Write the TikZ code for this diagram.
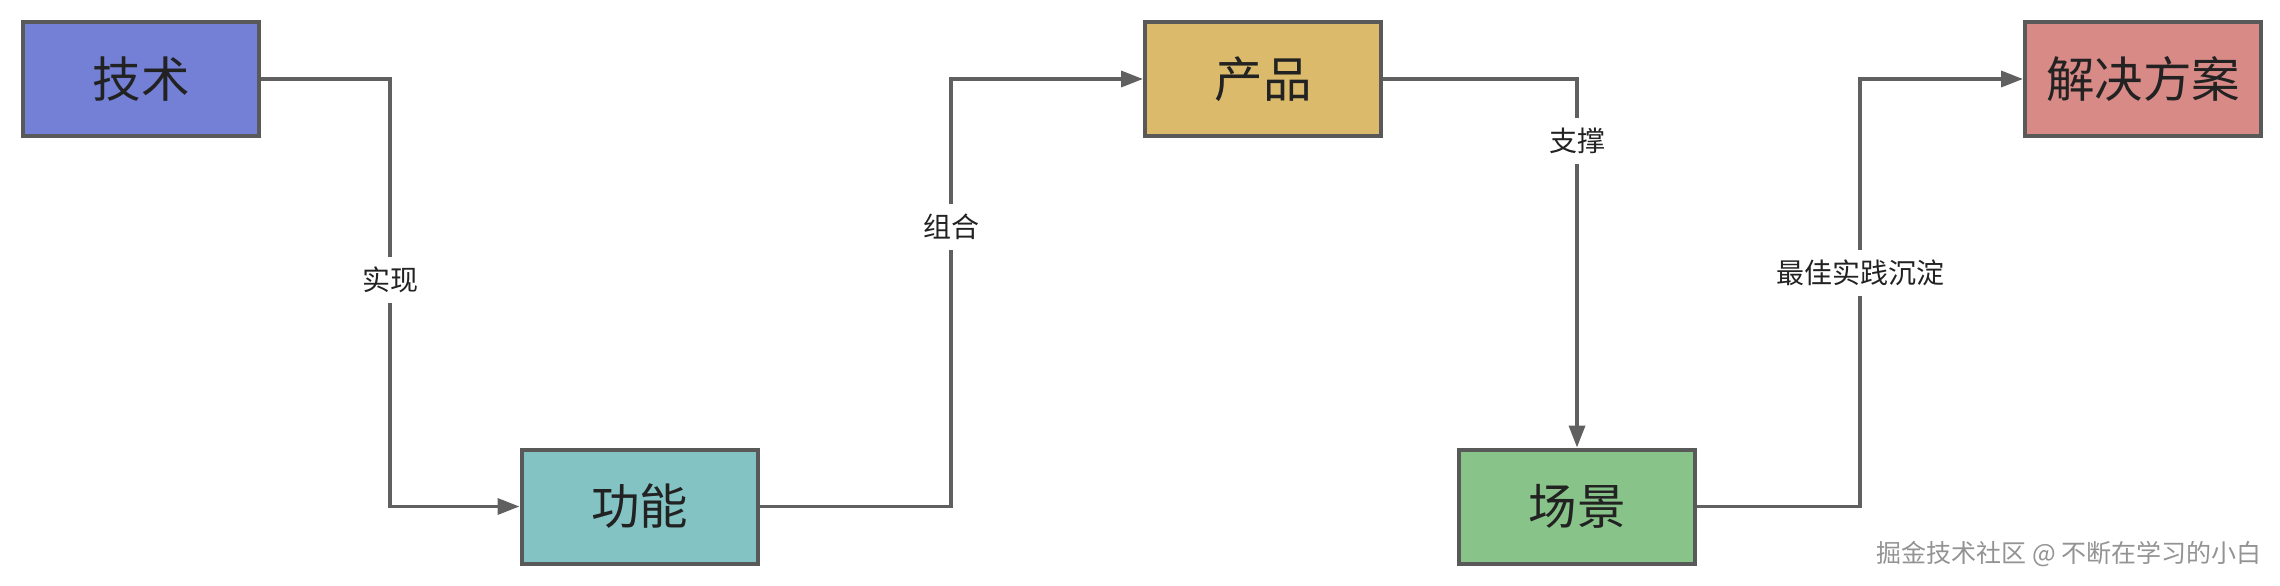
\documentclass[tikz,border=0pt]{standalone}
\usepackage{fontspec}
\newfontfamily\cjk{Noto Sans CJK SC}
\usetikzlibrary{arrows.meta}
\definecolor{cTech}{HTML}{7480D6}
\definecolor{cFunc}{HTML}{84C3C3}
\definecolor{cProd}{HTML}{DBBA6B}
\definecolor{cScene}{HTML}{88C38A}
\definecolor{cSol}{HTML}{D88A86}
\definecolor{cBorder}{HTML}{595959}
\definecolor{cLine}{HTML}{606060}
\definecolor{cText}{HTML}{222222}
\tikzset{
  box/.style={draw=cBorder, line width=4pt, minimum width=236pt, minimum height=114pt,
    inner sep=0pt, text=cText, font=\cjk\fontsize{48.5}{56}\selectfont},
  conn/.style={draw=cLine, line width=3.5pt, -{Triangle[length=22pt,width=16pt]}},
  lbl/.style={fill=white, text=cText, inner sep=10pt, font=\cjk\fontsize{28}{32}\selectfont},
  wmark/.style={text=gray!85, font=\cjk\fontsize{25}{30}\selectfont, inner sep=0pt}
}
\begin{document}
\begin{tikzpicture}[x=1pt,y=-1pt]
\useasboundingbox (0,0) rectangle (2280,586);
\node[box, fill=cTech]  (tech)  at (141,79)   {技术};
\node[box, fill=cFunc]  (func)  at (639.5,506.5) {功能};
\node[box, fill=cProd]  (prod)  at (1263,79)  {产品};
\node[box, fill=cScene] (scene) at (1577,506.5) {场景};
\node[box, fill=cSol]   (sol)   at (2143,79)  {解决方案};
\coordinate (k1) at (390,280);
\coordinate (k2) at (951,227);
\coordinate (k3) at (1577,141);
\coordinate (k4) at (1860,273);
\draw[conn] (tech.east) -| (k1) |- (func.west);
\draw[conn] (func.east) -| (k2) |- (prod.west);
\draw[conn] (prod.east) -| (k3) -- (scene.north);
\draw[conn] (scene.east) -| (k4) |- (sol.west);
\node[lbl] (l1) at (k1) {实现};
\node[lbl] (l2) at (k2) {组合};
\node[lbl] (l3) at (k3) {支撑};
\node[lbl] (l4) at (k4) {最佳实践沉淀};
\node[wmark, anchor=east] (wm) at (2262,554) {掘金技术社区 @ 不断在学习的小白};
\end{tikzpicture}
\end{document}
